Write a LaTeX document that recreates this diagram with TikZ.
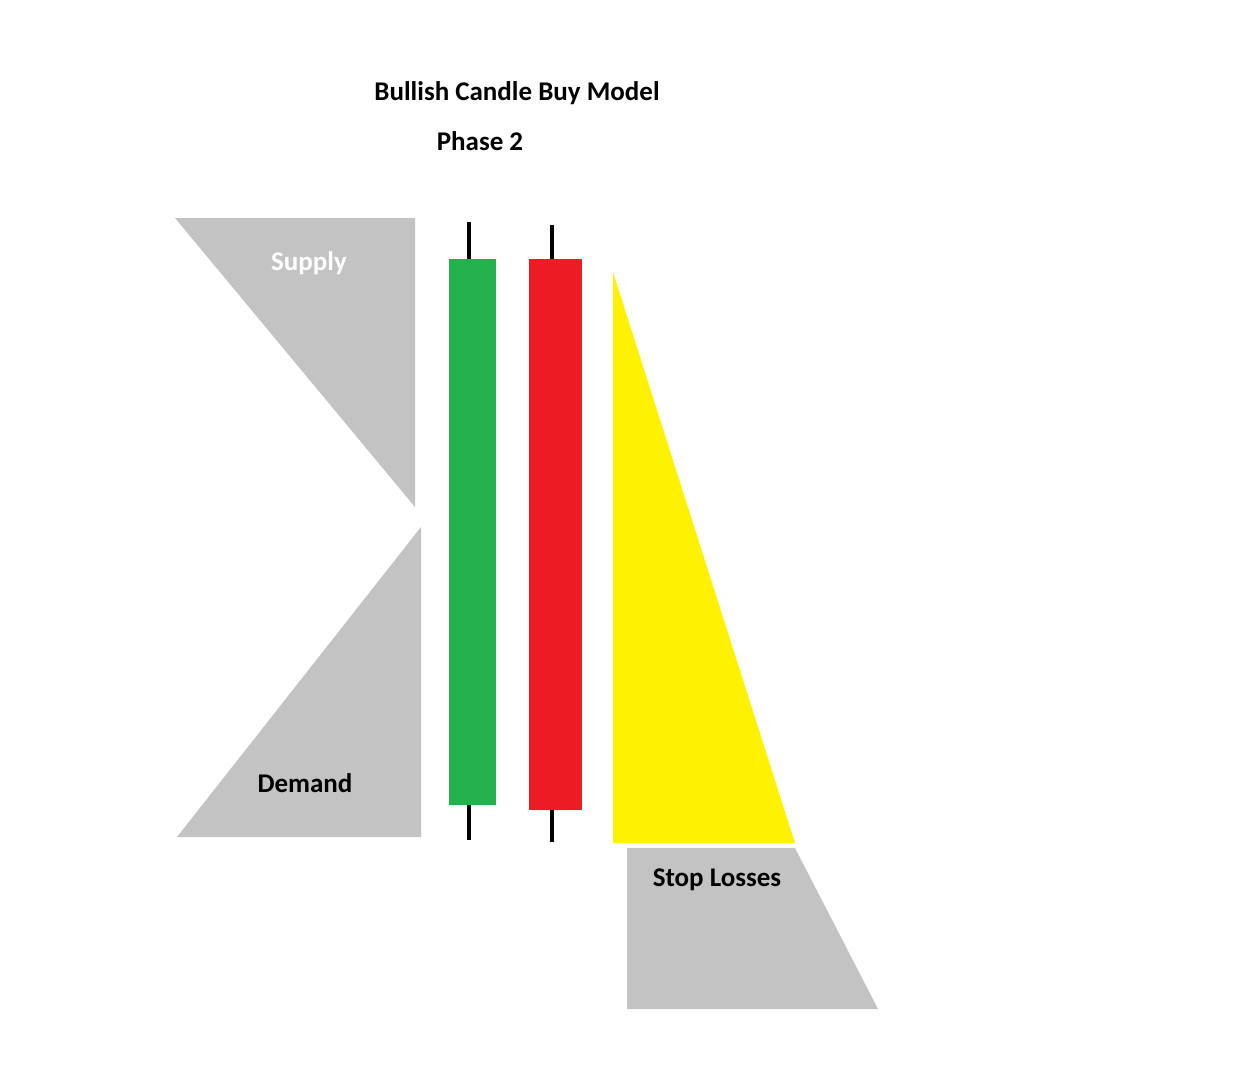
\documentclass[tikz,border=0pt]{standalone}
\usepackage{fontspec}
\setmainfont{Carlito}
\definecolor{zone}{HTML}{C3C3C3}
\definecolor{bull}{HTML}{22B14C}
\definecolor{bear}{HTML}{ED1C24}
\definecolor{stopy}{HTML}{FFF200}
\begin{document}
\begin{tikzpicture}[x=1pt,y=-1pt,
  lbl/.style={font=\bfseries\fontsize{27}{30}\selectfont,inner sep=0pt},
  wick/.style={line width=3.5pt}]
\useasboundingbox (0,0) rectangle (1250,1080);
\fill[zone] (175,218) -- (415,218) -- (415,507) -- cycle;
\fill[zone] (421,527) -- (421,837) -- (177,837) -- cycle;
\fill[stopy] (613,272) -- (613,843) -- (795,843) -- cycle;
\fill[zone] (627,848) -- (795,848) -- (878,1009) -- (627,1009) -- cycle;
\draw[wick] (469,222) -- (469,840);
\draw[wick] (552,225) -- (552,842);
\fill[bull] (449,259) rectangle (496,805);
\fill[bear] (529,259) rectangle (582,810);
\node[lbl] (title) at (517,93) {Bullish Candle Buy Model};
\node[lbl] (phase) at (480,141) {Phase 2};
\node[lbl,text=white] (supply) at (309,263) {Supply};
\node[lbl] (demand) at (305,783) {Demand};
\node[lbl] (stop) at (717,880) {Stop Losses};
\end{tikzpicture}
\end{document}
